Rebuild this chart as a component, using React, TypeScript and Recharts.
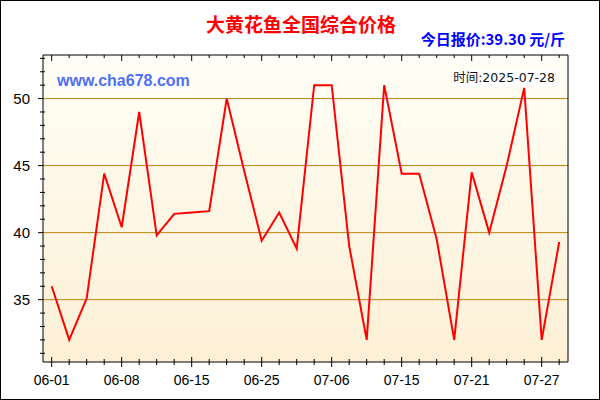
import React from 'react'
import { LineChart, Line, XAxis, YAxis, CartesianGrid } from 'recharts'

// ── Data ──────────────────────────────────────────────────────────────────────

const dates = [
  '06-01', '06-03', '06-05', '06-06', '06-08', '06-10', '06-11', '06-13', '06-15', '06-17',
  '06-19', '06-22', '06-25', '06-27', '06-29', '07-02', '07-06', '07-08', '07-10', '07-12',
  '07-15', '07-17', '07-18', '07-20', '07-21', '07-23', '07-25', '07-26', '07-27', '07-28',
]

const prices = [
  36.0, 32.0, 35.1, 44.4, 40.4, 49.0, 39.8, 41.4, 41.5, 41.6,
  50.0, 44.6, 39.4, 41.5, 38.8, 51.0, 51.0, 39.0, 32.0, 51.0,
  44.4, 44.4, 39.5, 32.0, 44.5, 40.0, 45.0, 50.8, 32.0, 39.3,
]

const yTicks = [31, 32, 33, 34, 35, 36, 37, 38, 39, 40, 41, 42, 43, 44, 45, 46, 47, 48, 49, 50, 51, 52, 53]
const yMajor = [35, 40, 45, 50]
const yDomain = [30.35, 53.25]

const title = '大黄花鱼全国综合价格'
const priceNote = '今日报价:39.30 元/斤'
const dateNote = '时间:2025-07-28'
const watermark = 'www.cha678.com'

const data = dates.map((d, i) => ({ date: d, price: prices[i] }))

// ── Style ─────────────────────────────────────────────────────────────────────

const W = 600
const H = 400
const LEFT = 43
const RIGHT = 32
const TOP = 55
const BOTTOM = 38
const GRID = '#b8860b'
const AXIS_FONT = '"Liberation Sans", Arial, sans-serif'

const isMajorX = (i: number) => i % 4 === 0

function BottomTick(props: any) {
  const { x, y, payload } = props
  const major = isMajorX(payload.index)
  const h = major ? 5 : 3
  return (
    <g>
      <line x1={x} x2={x} y1={y - h} y2={y + h} stroke="#000" />
      {major && (
        <text x={x} y={y + 23} textAnchor="middle" fontSize={14} fontFamily={AXIS_FONT} fill="#000">
          {payload.value}
        </text>
      )}
    </g>
  )
}

function TopTick(props: any) {
  const { x, y, payload } = props
  const h = isMajorX(payload.index) ? 6 : 3
  return <line x1={x} x2={x} y1={y} y2={y + h} stroke="#000" />
}

function LeftTick(props: any) {
  const { x, y, payload } = props
  const major = yMajor.includes(payload.value)
  return (
    <g>
      {major
        ? <line x1={x - 5} x2={x} y1={y} y2={y} stroke="#000" />
        : <line x1={x - 3} x2={x + 2} y1={y} y2={y} stroke="#000" />}
      {major && (
        <text x={x - 13} y={y + 5} textAnchor="end" fontSize={15} fontFamily={AXIS_FONT} fill="#000">
          {payload.value}
        </text>
      )}
    </g>
  )
}

function RightTick(props: any) {
  const { x, y } = props
  return <line x1={x - 5} x2={x} y1={y} y2={y} stroke="#000" />
}

// ── Component ─────────────────────────────────────────────────────────────────

export default function App() {
  return (
    <div style={{
      position: 'fixed', left: 0, top: 0, width: W, height: H, background: '#fff',
      border: '1px solid #000', boxSizing: 'border-box', overflow: 'hidden',
    }}>
      <div style={{ position: 'absolute', left: -1, top: -1 }}>
        <LineChart width={W} height={H} data={data} margin={{ top: 0, right: 0, left: 0, bottom: 0 }}>
          <defs>
            <linearGradient id="plotBg" x1="0" y1="0" x2="0" y2="1">
              <stop offset="0%" stopColor="#fffef6" />
              <stop offset="100%" stopColor="#fdf0d6" />
            </linearGradient>
          </defs>
          <CartesianGrid vertical={false} horizontalValues={yMajor} stroke={GRID} fill="url(#plotBg)" fillOpacity={1} />
          <XAxis
            dataKey="date" height={BOTTOM} interval={0}
            padding={{ left: 8.7, right: 8.8 }}
            axisLine={{ stroke: '#000' }} tickLine={false} tickSize={0} tickMargin={0}
            tick={<BottomTick />}
          />
          <XAxis
            xAxisId="top" orientation="top" dataKey="date" height={TOP} interval={0}
            padding={{ left: 8.7, right: 8.8 }}
            axisLine={{ stroke: '#000' }} tickLine={false} tickSize={0} tickMargin={0}
            tick={<TopTick />}
          />
          <YAxis
            type="number" domain={yDomain} ticks={yTicks} interval={0} width={LEFT}
            axisLine={{ stroke: '#000' }} tickLine={false} tickSize={0} tickMargin={0}
            tick={<LeftTick />}
          />
          <YAxis
            yAxisId="right" orientation="right" type="number" domain={yDomain} ticks={yTicks}
            interval={0} width={RIGHT}
            axisLine={{ stroke: '#000' }} tickLine={false} tickSize={0} tickMargin={0}
            tick={<RightTick />}
          />
          <Line
            type="linear" dataKey="price" stroke="#ff0000" strokeWidth={2}
            dot={false} activeDot={false} isAnimationActive={false}
          />
        </LineChart>
      </div>

      <div style={{
        position: 'absolute', left: 0, width: W, top: 11, textAlign: 'center',
        font: 'bold 19px "Noto Sans CJK SC", sans-serif', color: '#ff0000', lineHeight: '24px',
      }}>{title}</div>

      <div style={{
        position: 'absolute', right: 34, top: 28, textAlign: 'right',
        font: 'bold 15px "Noto Sans CJK SC", sans-serif', color: '#0000ff', lineHeight: '20px',
      }}>{priceNote}</div>

      <div style={{
        position: 'absolute', left: 54, top: 71, padding: '0 2px', background: '#fff',
        font: 'bold 16px "Liberation Sans", Arial, sans-serif', color: '#4f6ff5', lineHeight: '18px',
      }}>{watermark}</div>

      <div style={{
        position: 'absolute', right: 43, top: 69, padding: '0 1px', background: '#fff',
        font: '12.5px "DejaVu Sans", "Noto Sans CJK SC", sans-serif', color: '#111', lineHeight: '16px',
      }}>{dateNote}</div>
    </div>
  )
}
